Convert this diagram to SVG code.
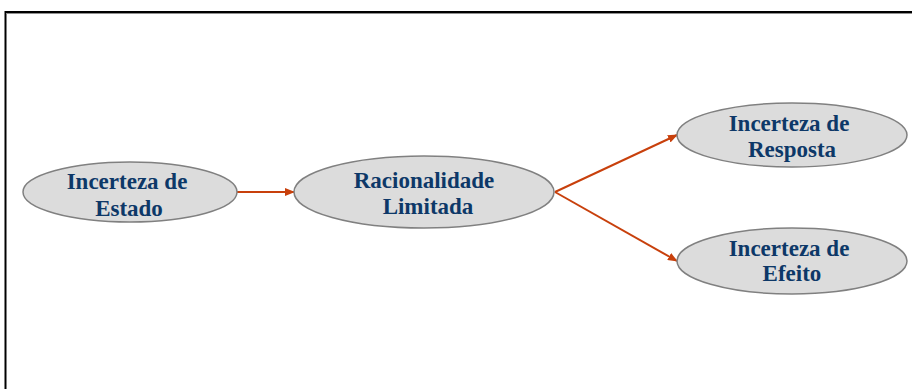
<svg xmlns="http://www.w3.org/2000/svg" width="912" height="389" viewBox="0 0 912 389">
  <defs>
    <marker id="arrow" markerWidth="10" markerHeight="8" refX="9" refY="4" orient="auto" markerUnits="userSpaceOnUse">
      <path d="M0,0 L10,4 L0,8 Z" fill="#c8400c"/>
    </marker>
  </defs>
  <style>
    .node ellipse { fill: #dcdcdc; stroke: #808080; stroke-width: 1.5; }
    .node text { font-family: "Liberation Serif", "Times New Roman", serif; font-weight: bold; font-size: 23px; fill: #0d3868; text-anchor: middle; }
    .edge { stroke: #c8400c; stroke-width: 2; fill: none; marker-end: url(#arrow); }
    .frame { stroke: #000; stroke-width: 2; fill: none; }
  </style>
  <rect width="912" height="389" fill="#fff"/>
  <path class="frame" d="M5.5,389 V12 H912"/>
  <path d="M6,13.5 H912" stroke="#909090" stroke-width="1"/>

  <g id="connectors">
    <line class="edge" x1="237" y1="192" x2="294" y2="192"/>
    <line class="edge" x1="555" y1="192" x2="677" y2="135"/>
    <line class="edge" x1="555" y1="192" x2="677" y2="261"/>
  </g>

  <g id="estado" class="node">
    <ellipse cx="130" cy="192" rx="107" ry="30"/>
    <text x="127" y="189">Incerteza de</text>
    <text x="129" y="216">Estado</text>
  </g>
  <g id="racionalidade" class="node">
    <ellipse cx="424" cy="192" rx="130" ry="36"/>
    <text x="424" y="188">Racionalidade</text>
    <text x="428" y="214">Limitada</text>
  </g>
  <g id="resposta" class="node">
    <ellipse cx="792" cy="135" rx="115" ry="32"/>
    <text x="789" y="131">Incerteza de</text>
    <text x="792" y="157">Resposta</text>
  </g>
  <g id="efeito" class="node">
    <ellipse cx="792" cy="261" rx="115" ry="33"/>
    <text x="789" y="256">Incerteza de</text>
    <text x="792" y="281">Efeito</text>
  </g>
</svg>
